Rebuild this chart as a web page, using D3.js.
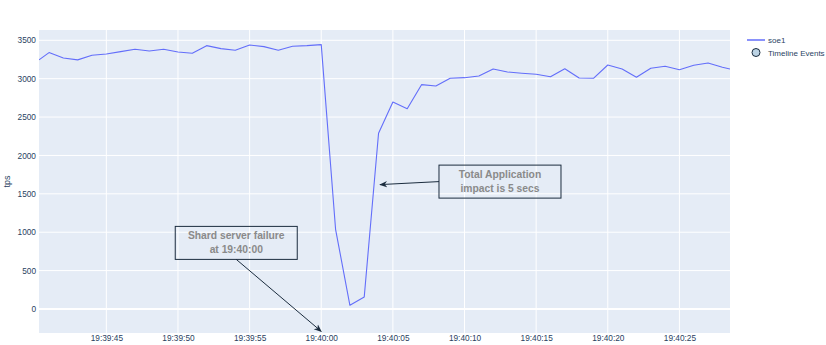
<!DOCTYPE html>
<html>
<head>
<meta charset="utf-8">
<script src="https://cdn.jsdelivr.net/npm/d3@7"></script>
<style>
  body { margin: 0; background: #ffffff; }
  svg { display: block; font-family: "Liberation Sans", Arial, sans-serif; }
</style>
</head>
<body>
<div id="chart"></div>
<script>
const FRAME_WIDTH = 826;
const FRAME_HEIGHT = 345;
const MARGINS = {left: 39, right: 96, top: 30, bottom: 12};

const VIS_WIDTH = FRAME_WIDTH - MARGINS.left - MARGINS.right;
const VIS_HEIGHT = FRAME_HEIGHT - MARGINS.top - MARGINS.bottom;

const LINE_COLOR = "#636efa";
const PLOT_BG = "#e5ecf6";
const TEXT_COLOR = "#2a3f5f";
const NOTE_COLOR = "#1b2c3e";

// data (tps per second)
const TIMES = ["19:39:40.300", "19:39:41", "19:39:42", "19:39:43", "19:39:44", "19:39:45",
  "19:39:46", "19:39:47", "19:39:48", "19:39:49", "19:39:50", "19:39:51", "19:39:52",
  "19:39:53", "19:39:54", "19:39:55", "19:39:56", "19:39:57", "19:39:58", "19:39:59",
  "19:40:00", "19:40:01", "19:40:02", "19:40:03", "19:40:04", "19:40:05", "19:40:06",
  "19:40:07", "19:40:08", "19:40:09", "19:40:10", "19:40:11", "19:40:12", "19:40:13",
  "19:40:14", "19:40:15", "19:40:16", "19:40:17", "19:40:18", "19:40:19", "19:40:20",
  "19:40:21", "19:40:22", "19:40:23", "19:40:24", "19:40:25", "19:40:26", "19:40:27",
  "19:40:28", "19:40:28.530"];
const TPS = [3245, 3340, 3270, 3245, 3305, 3322, 3352, 3383, 3361, 3383, 3348, 3331, 3430,
  3391, 3370, 3439, 3417, 3370, 3422, 3430, 3443, 1038, 48, 156, 2289, 2696, 2609, 2922,
  2905, 3005, 3013, 3035, 3126, 3087, 3070, 3057, 3026, 3130, 3009, 3005, 3178, 3126,
  3018, 3135, 3161, 3117, 3174, 3204, 3148, 3126];

const Y_TICKS = [0, 500, 1000, 1500, 2000, 2500, 3000, 3500];
const Y_DOMAIN = [-313, 3634];

const SERIES_NAME = "soe1";
const EVENTS_NAME = "Timeline Events";

// annotations: target point, tail offset in px, box anchor
const NOTE_TEXTS = [["Shard server failure", "at 19:40:00"], ["Total Application", "impact is 5 secs"]];
const NOTE_X = ["19:40:00", "19:40:04.100"];
const NOTE_Y = [-292, 1620];
const NOTE_AX = [-85, 59];
const NOTE_AY = [-72, -3];
const NOTE_ANCHOR = ["bottom", "left"];

const parseTime = (s) => d3.timeParse("%H:%M:%S.%L")(s) || d3.timeParse("%H:%M:%S")(s);

const data = TIMES.map((t, i) => ({time: parseTime(t), tps: TPS[i]}));

const SVG = d3.select("#chart")
  .append("svg")
    .attr("width", FRAME_WIDTH)
    .attr("height", FRAME_HEIGHT);

const X_SCALE = d3.scaleTime()
  .domain(d3.extent(data, (d) => d.time))
  .range([MARGINS.left, MARGINS.left + VIS_WIDTH]);

const Y_SCALE = d3.scaleLinear()
  .domain(Y_DOMAIN)
  .range([MARGINS.top + VIS_HEIGHT, MARGINS.top]);

// plot background
SVG.append("rect")
  .attr("x", MARGINS.left)
  .attr("y", MARGINS.top)
  .attr("width", VIS_WIDTH)
  .attr("height", VIS_HEIGHT)
  .attr("fill", PLOT_BG);

const X_TICKS = X_SCALE.ticks(d3.timeSecond.every(5));

// vertical grid
SVG.append("g")
  .selectAll("line")
  .data(X_TICKS)
  .enter()
  .append("line")
    .attr("x1", (d) => X_SCALE(d))
    .attr("x2", (d) => X_SCALE(d))
    .attr("y1", MARGINS.top)
    .attr("y2", MARGINS.top + VIS_HEIGHT)
    .attr("stroke", "#ffffff")
    .attr("stroke-width", 1);

// horizontal grid (zero line thicker)
SVG.append("g")
  .selectAll("line")
  .data(Y_TICKS)
  .enter()
  .append("line")
    .attr("x1", MARGINS.left)
    .attr("x2", MARGINS.left + VIS_WIDTH)
    .attr("y1", (d) => Y_SCALE(d))
    .attr("y2", (d) => Y_SCALE(d))
    .attr("stroke", "#ffffff")
    .attr("stroke-width", (d) => d === 0 ? 2 : 1);

// x axis
const xAxis = SVG.append("g")
  .attr("transform", "translate(0," + (MARGINS.top + VIS_HEIGHT) + ")")
  .call(d3.axisBottom(X_SCALE).tickValues(X_TICKS).tickFormat(d3.timeFormat("%H:%M:%S")).tickSize(0).tickPadding(2));
xAxis.select(".domain").remove();
xAxis.selectAll("text").attr("fill", TEXT_COLOR).attr("font-size", "8.3px").attr("font-family", "Liberation Sans, Arial, sans-serif");

// y axis
const yAxis = SVG.append("g")
  .attr("transform", "translate(" + MARGINS.left + ",0)")
  .call(d3.axisLeft(Y_SCALE).tickValues(Y_TICKS).tickFormat(d3.format("d")).tickSize(0).tickPadding(3));
yAxis.select(".domain").remove();
yAxis.selectAll("text").attr("fill", TEXT_COLOR).attr("font-size", "8.3px").attr("font-family", "Liberation Sans, Arial, sans-serif");

// y title
SVG.append("text")
  .attr("transform", "translate(10," + (MARGINS.top + VIS_HEIGHT / 2) + ") rotate(-90)")
  .attr("text-anchor", "middle")
  .attr("font-size", "9px")
  .attr("fill", TEXT_COLOR)
  .text("tps");

// clip for the line
SVG.append("clipPath")
  .attr("id", "plot-clip")
  .append("rect")
    .attr("x", MARGINS.left)
    .attr("y", MARGINS.top)
    .attr("width", VIS_WIDTH)
    .attr("height", VIS_HEIGHT);

const line = d3.line()
  .x((d) => X_SCALE(d.time))
  .y((d) => Y_SCALE(d.tps));

SVG.append("path")
  .datum(data)
  .attr("clip-path", "url(#plot-clip)")
  .attr("d", line)
  .attr("fill", "none")
  .attr("stroke", LINE_COLOR)
  .attr("stroke-width", 1.1)
  .attr("stroke-linejoin", "round");

// arrow marker
SVG.append("defs")
  .append("marker")
    .attr("id", "arrowhead")
    .attr("viewBox", "0 0 10 10")
    .attr("refX", 9)
    .attr("refY", 5)
    .attr("markerWidth", 8)
    .attr("markerHeight", 8)
    .attr("orient", "auto")
  .append("path")
    .attr("d", "M0,1 L10,5 L0,9 L3,5 Z")
    .attr("fill", NOTE_COLOR);

// annotations
NOTE_TEXTS.forEach((lines, i) => {
  const hx = X_SCALE(parseTime(NOTE_X[i]));
  const hy = Y_SCALE(NOTE_Y[i]);
  const tx = hx + NOTE_AX[i];
  const ty = hy + NOTE_AY[i];
  const boxW = 122, boxH = 33;
  let bx, by;
  if (NOTE_ANCHOR[i] === "bottom") { bx = tx - boxW / 2; by = ty - boxH; }
  else { bx = tx; by = ty - boxH / 2; }

  SVG.append("line")
    .attr("x1", tx)
    .attr("y1", ty)
    .attr("x2", hx)
    .attr("y2", hy)
    .attr("stroke", NOTE_COLOR)
    .attr("stroke-width", 1)
    .attr("marker-end", "url(#arrowhead)");

  SVG.append("rect")
    .attr("x", bx)
    .attr("y", by)
    .attr("width", boxW)
    .attr("height", boxH)
    .attr("fill", "none")
    .attr("stroke", NOTE_COLOR)
    .attr("stroke-width", 1);

  SVG.append("g")
    .selectAll("text")
    .data(lines)
    .enter()
    .append("text")
      .attr("x", bx + boxW / 2)
      .attr("y", (d, j) => by + 13 + j * 13.4)
      .attr("text-anchor", "middle")
      .attr("font-size", "10.3px")
      .attr("font-weight", "bold")
      .attr("fill", "#8a8a8a")
      .text((d) => d);
});

// legend
const LEGEND = SVG.append("g").attr("transform", "translate(747,40)");
LEGEND.append("line")
  .attr("x1", 0).attr("x2", 18)
  .attr("y1", 0).attr("y2", 0)
  .attr("stroke", LINE_COLOR)
  .attr("stroke-width", 1.5);
LEGEND.append("text")
  .attr("x", 21).attr("y", 3)
  .attr("font-size", "8px")
  .attr("fill", TEXT_COLOR)
  .text(SERIES_NAME);
LEGEND.append("circle")
  .attr("cx", 9).attr("cy", 12.5)
  .attr("r", 4)
  .attr("fill", "#bcd3e4")
  .attr("stroke", NOTE_COLOR)
  .attr("stroke-width", 1);
LEGEND.append("text")
  .attr("x", 21).attr("y", 15.5)
  .attr("font-size", "8px")
  .attr("fill", TEXT_COLOR)
  .text(EVENTS_NAME);
</script>
</body>
</html>
